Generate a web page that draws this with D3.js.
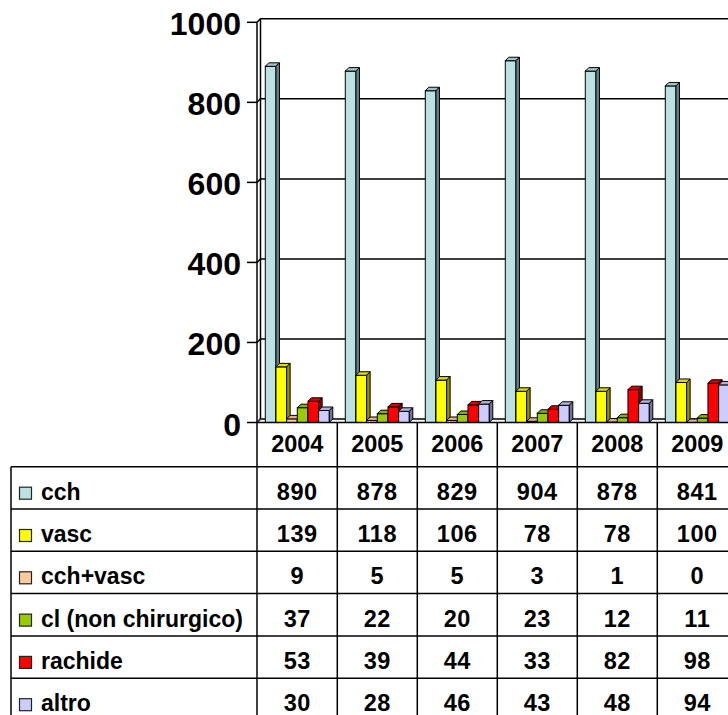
<!DOCTYPE html>
<meta charset="utf-8">
<html lang="it">
<head>
  <title>Interventi per anno</title>
  <script src="https://d3js.org/d3.v7.min.js"></script>
  <style>
    body { margin: 0; background: #fff; }
    text { font-family: "Liberation Sans", Arial, sans-serif; font-weight: bold; fill: #000; }
  </style>
</head>
<body>
<script>
// data
var years = ["2004", "2005", "2006", "2007", "2008", "2009"];
var seriesNames = ["cch", "vasc", "cch+vasc", "cl (non chirurgico)", "rachide", "altro"];
var cch = [890, 878, 829, 904, 878, 841];
var vasc = [139, 118, 106, 78, 78, 100];
var cchVasc = [9, 5, 5, 3, 1, 0];
var cl = [37, 22, 20, 23, 12, 11];
var rachide = [53, 39, 44, 33, 82, 98];
var altro = [30, 28, 46, 43, 48, 94];
var yTicks = [0, 200, 400, 600, 800, 1000];

var seriesValues = [cch, vasc, cchVasc, cl, rachide, altro];
var colors = ["#bde0e3", "#ffff00", "#ffcc99", "#99cc00", "#ff0000", "#ccccff"];

var width = 728, height = 715;
var dx = 3.5, dy = 3.5; // 3d depth offset

var svg = d3.select("body").append("svg")
    .attr("width", width)
    .attr("height", height);

var x = d3.scaleBand()
    .domain(years)
    .range([257.3, 257.3 + 80 * years.length]);

var xs = d3.scaleBand()
    .domain(seriesNames)
    .range([8, 72]);

var y = d3.scaleLinear()
    .domain([0, 1000])
    .range([422.5, 22.3]);

var xEnd = x.range()[1] + 10;

// walls + gridlines
var grid = svg.append("g").attr("class", "grid");
yTicks.forEach(function(t) {
  grid.append("polyline")
      .attr("points", [[257, y(t)], [257 + dx, y(t) - dy], [xEnd, y(t) - dy]].join(" "))
      .attr("fill", "none")
      .attr("stroke", t == 0 ? "#404040" : "#000")
      .attr("stroke-width", t == 0 ? 2 : 1.5);
});
grid.append("line")
    .attr("x1", 257 + dx).attr("x2", 257 + dx)
    .attr("y1", y(1000) - dy).attr("y2", y(0) - dy)
    .attr("stroke", "#000").attr("stroke-width", 1.5);

// y axis
var yAxis = svg.append("g").attr("class", "y-axis");
yAxis.append("line")
    .attr("x1", 257).attr("x2", 257)
    .attr("y1", y(1000)).attr("y2", height)
    .attr("stroke", "#000").attr("stroke-width", 1.5);
yTicks.forEach(function(t) {
  yAxis.append("line")
      .attr("x1", 247).attr("x2", 257)
      .attr("y1", y(t)).attr("y2", y(t))
      .attr("stroke", "#000").attr("stroke-width", 1.5);
  yAxis.append("text")
      .attr("x", 241)
      .attr("y", y(t) + 13)
      .attr("text-anchor", "end")
      .style("font-size", "32px")
      .text(t);
});

// 3d bars
var bars = svg.append("g").attr("class", "bars");
years.forEach(function(yr, i) {
  seriesNames.forEach(function(name, j) {
    var v = seriesValues[j][i];
    var x0 = x(yr) + xs(name), w = xs.bandwidth();
    var y0 = y(0), y1 = y(v);
    var c = d3.color(colors[j]);
    var g = bars.append("g");
    g.append("rect")
        .attr("x", x0).attr("y", y1)
        .attr("width", w).attr("height", y0 - y1)
        .attr("fill", colors[j]).attr("stroke", "#000").attr("stroke-width", 1);
    g.append("polygon")
        .attr("points", [[x0, y1], [x0 + dx, y1 - dy], [x0 + w + dx, y1 - dy], [x0 + w, y1]].join(" "))
        .attr("fill", c.darker(0.4)).attr("stroke", "#000").attr("stroke-width", 1);
    g.append("polygon")
        .attr("points", [[x0 + w, y1], [x0 + w + dx, y1 - dy], [x0 + w + dx, y0 - dy], [x0 + w, y0]].join(" "))
        .attr("fill", c.darker(1.6)).attr("stroke", "#000").attr("stroke-width", 1);
  });
});

// front floor edge
svg.append("line")
    .attr("x1", 257).attr("x2", xEnd)
    .attr("y1", y(0)).attr("y2", y(0))
    .attr("stroke", "#000").attr("stroke-width", 1.5);

// data table
var table = svg.append("g").attr("class", "table");
var rowTop = 466.7, rowH = 42.3;

years.forEach(function(yr, i) {
  table.append("line")
      .attr("x1", x(yr) + 80).attr("x2", x(yr) + 80)
      .attr("y1", y(0)).attr("y2", height)
      .attr("stroke", "#000").attr("stroke-width", 1.5);
  table.append("text")
      .attr("x", x(yr) + 40)
      .attr("y", 451.5)
      .attr("text-anchor", "middle")
      .style("font-size", "23.5px")
      .text(yr);
});

table.append("line")
    .attr("x1", 11).attr("x2", 11)
    .attr("y1", rowTop).attr("y2", height)
    .attr("stroke", "#000").attr("stroke-width", 1.5);

for (var k = 0; k <= seriesNames.length; k++) {
  table.append("line")
      .attr("x1", 11).attr("x2", xEnd)
      .attr("y1", rowTop + k * rowH).attr("y2", rowTop + k * rowH)
      .attr("stroke", "#000").attr("stroke-width", 1.5);
}

seriesNames.forEach(function(name, j) {
  var top = rowTop + j * rowH;
  table.append("rect")
      .attr("x", 19.5).attr("y", top + 20.5)
      .attr("width", 12).attr("height", 12)
      .attr("fill", colors[j]).attr("stroke", "#222").attr("stroke-width", 1.2);
  table.append("text")
      .attr("x", 41)
      .attr("y", top + 33)
      .style("font-size", "23px")
      .text(name);
  years.forEach(function(yr, i) {
    table.append("text")
        .attr("x", x(yr) + 40)
        .attr("y", top + 33)
        .attr("text-anchor", "middle")
        .style("font-size", "23.5px")
        .style("letter-spacing", "0.6px")
        .text(seriesValues[j][i]);
  });
});
</script>
</body>
</html>
